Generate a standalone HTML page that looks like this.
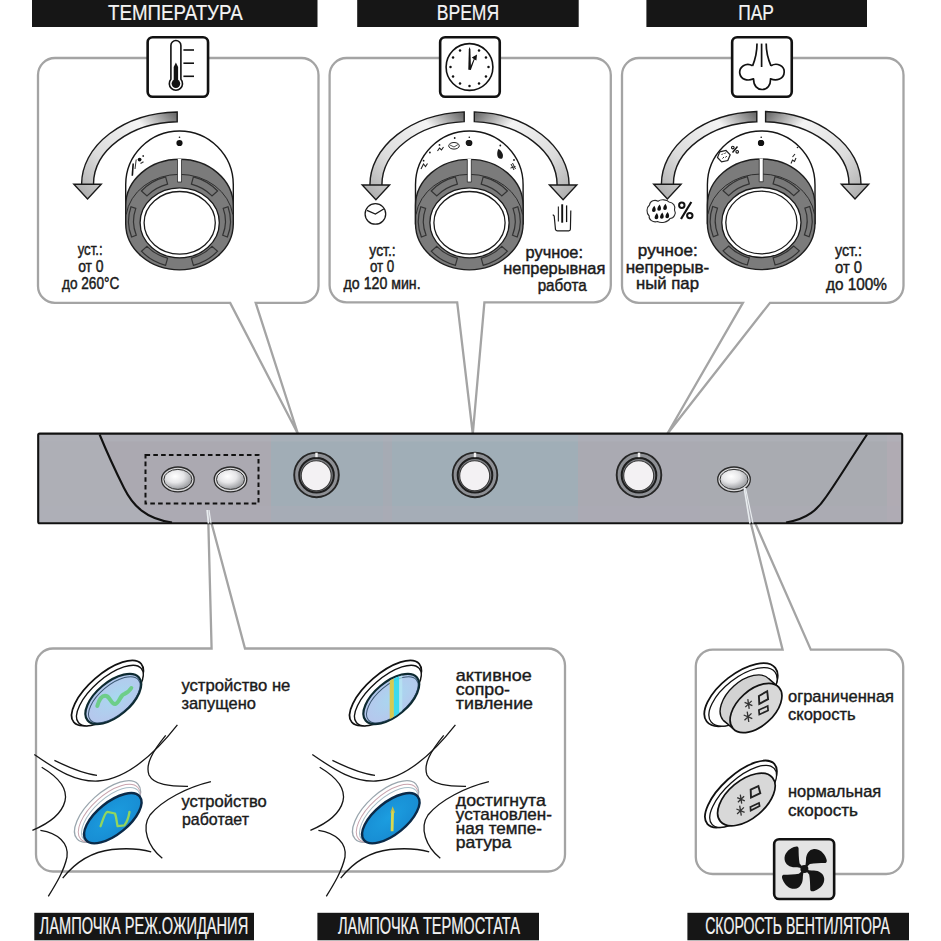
<!DOCTYPE html>
<html><head><meta charset="utf-8"><title>panel</title>
<style>html,body{margin:0;padding:0;background:#fff;width:941px;height:941px;overflow:hidden}
svg{display:block;font-family:"Liberation Sans",sans-serif}</style></head><body>
<svg width="941" height="941" viewBox="0 0 941 941">
<defs>
<radialGradient id="silver" cx="0.4" cy="0.35" r="0.7">
<stop offset="0" stop-color="#ffffff"/><stop offset="0.45" stop-color="#e6e6e8"/><stop offset="1" stop-color="#8e9094"/></radialGradient>
<linearGradient id="stripL" x1="0" y1="0" x2="1" y2="0"><stop offset="0" stop-color="#b4b6bc"/><stop offset="1" stop-color="#aeb1b6"/></linearGradient>
</defs>
<rect width="941" height="941" fill="#fff"/>

<rect x="32" y="0" width="285.5" height="27" fill="#161616"/>
<text x="108" y="20.3" font-size="22" textLength="134.7" lengthAdjust="spacingAndGlyphs" fill="#f4f4f4" text-anchor="start" stroke="#f4f4f4" stroke-width="0.2" >ТЕМПЕРАТУРА</text>
<rect x="357.2" y="0" width="221.5" height="27" fill="#161616"/>
<text x="436.7" y="20.3" font-size="22" textLength="62.5" lengthAdjust="spacingAndGlyphs" fill="#f4f4f4" text-anchor="start" stroke="#f4f4f4" stroke-width="0.2" >ВРЕМЯ</text>
<rect x="646.4" y="0" width="220.6" height="27" fill="#161616"/>
<text x="738.2" y="20.3" font-size="22" textLength="35.7" lengthAdjust="spacingAndGlyphs" fill="#f4f4f4" text-anchor="start" stroke="#f4f4f4" stroke-width="0.2" >ПАР</text>
<rect x="34.3" y="912.8" width="219.7" height="27.5" fill="#161616"/>
<text x="39.6" y="933.9" font-size="23.4" textLength="208.6" lengthAdjust="spacingAndGlyphs" fill="#f4f4f4" text-anchor="start" stroke="#f4f4f4" stroke-width="0.2" >ЛАМПОЧКА РЕЖ.ОЖИДАНИЯ</text>
<rect x="317.4" y="912.8" width="221.6" height="27.5" fill="#161616"/>
<text x="337.9" y="933.9" font-size="23.4" textLength="182" lengthAdjust="spacingAndGlyphs" fill="#f4f4f4" text-anchor="start" stroke="#f4f4f4" stroke-width="0.2" >ЛАМПОЧКА ТЕРМОСТАТА</text>
<rect x="687.4" y="912.8" width="221.6" height="27.5" fill="#161616"/>
<text x="705.2" y="933.9" font-size="23.4" textLength="184.7" lengthAdjust="spacingAndGlyphs" fill="#f4f4f4" text-anchor="start" stroke="#f4f4f4" stroke-width="0.2" >СКОРОСТЬ ВЕНТИЛЯТОРА</text>
<path d="M55,58 H301.5 A17,17 0 0 1 318.5,75 V285.9 A17,17 0 0 1 301.5,302.9 H255.7 L298,434 L230.2,302.9 H55 A17,17 0 0 1 38,285.9 V75 A17,17 0 0 1 55,58 Z" fill="#fff" stroke="#a4a4a4" stroke-width="2.3" stroke-linejoin="miter"/>
<path d="M346.6,58 H593.8 A17,17 0 0 1 610.8,75 V285.3 A17,17 0 0 1 593.8,302.3 H484.4 L472.8,434 L457.2,302.3 H346.6 A17,17 0 0 1 329.6,285.3 V75 A17,17 0 0 1 346.6,58 Z" fill="#fff" stroke="#a4a4a4" stroke-width="2.3" stroke-linejoin="miter"/>
<path d="M639,58 H886.5 A17,17 0 0 1 903.5,75 V285.8 A17,17 0 0 1 886.5,302.8 H770 L667.2,434 L742.9,302.8 H639 A17,17 0 0 1 622,285.8 V75 A17,17 0 0 1 639,58 Z" fill="#fff" stroke="#a4a4a4" stroke-width="2.3" stroke-linejoin="miter"/>
<path d="M53,648.5 H211.6 L208,510 L245,648.5 H548 A17,17 0 0 1 565,665.5 V854.5 A17,17 0 0 1 548,871.5 H53 A17,17 0 0 1 36,854.5 V665.5 A17,17 0 0 1 53,648.5 Z" fill="#fff" stroke="#a4a4a4" stroke-width="2.3" stroke-linejoin="miter"/>
<path d="M712.8,649.6 H782.6 L745,500 L810.8,649.6 H886.2 A17,17 0 0 1 903.2,666.6 V857 A17,17 0 0 1 886.2,874 H712.8 A17,17 0 0 1 695.8,857 V666.6 A17,17 0 0 1 712.8,649.6 Z" fill="#fff" stroke="#a4a4a4" stroke-width="2.3" stroke-linejoin="miter"/>
<rect x="147.65" y="37.25" width="60.400000000000006" height="59.5" rx="5" fill="#fff" stroke="#111" stroke-width="2.6"/>
<path d="M170.9,79.3 V45.5 A5,5 0 0 1 180.9,45.5 V79.3 A6.6,6.6 0 1 1 170.9,79.3 Z" fill="#fff" stroke="#111" stroke-width="1.6"/>
<path d="M173.7,84 V67 L175.9,62.5 L178.1,67 V84 Z" fill="#111"/>
<circle cx="175.9" cy="83.6" r="4.3" fill="#111"/>
<line x1="183.4" y1="50" x2="194" y2="50" stroke="#111" stroke-width="1.6"/>
<line x1="183.4" y1="63.2" x2="194" y2="63.2" stroke="#111" stroke-width="1.6"/>
<line x1="183.4" y1="76.3" x2="194" y2="76.3" stroke="#111" stroke-width="1.6"/>
<rect x="440.15" y="37.25" width="59.60000000000002" height="59.5" rx="5" fill="#fff" stroke="#111" stroke-width="2.6"/>
<circle cx="469.5" cy="67" r="23.4" fill="#fff" stroke="#111" stroke-width="1.6"/>
<circle cx="479.00" cy="50.55" r="1.25" fill="#111"/>
<circle cx="485.95" cy="57.50" r="1.25" fill="#111"/>
<circle cx="488.50" cy="67.00" r="1.25" fill="#111"/>
<circle cx="485.95" cy="76.50" r="1.25" fill="#111"/>
<circle cx="479.00" cy="83.45" r="1.25" fill="#111"/>
<circle cx="469.50" cy="86.00" r="1.25" fill="#111"/>
<circle cx="460.00" cy="83.45" r="1.25" fill="#111"/>
<circle cx="453.05" cy="76.50" r="1.25" fill="#111"/>
<circle cx="450.50" cy="67.00" r="1.25" fill="#111"/>
<circle cx="453.05" cy="57.50" r="1.25" fill="#111"/>
<circle cx="460.00" cy="50.55" r="1.25" fill="#111"/>
<path d="M468.3,69.8 L468.8,49.5 L469.6,47 L470.4,49.5 L471,69.8 Z" fill="#111"/>
<path d="M469.2,69.5 L473.8,59 L471.8,57.6 L477,54.6 L476.4,60.6 L474.6,59.6 L470.9,69.8 Z" fill="#111"/>
<rect x="732.15" y="37.25" width="59.60000000000002" height="59.5" rx="5" fill="#fff" stroke="#111" stroke-width="2.6"/>
<path d="M752.6,65.8 C746,62 738.8,67 739.8,73.5 C740.8,79.5 747.5,81.5 753.5,78.8 C753.5,86 757.5,89.5 762,89.5 C767.5,89.5 770.8,85 770.5,78.8 C776.5,81.5 784,79 784.2,72 C784.5,66 777,62 771,65.8" fill="none" stroke="#111" stroke-width="1.7" stroke-linejoin="round"/>
<path d="M757,43.6 C757,53 755,60 752.6,65.8" fill="none" stroke="#111" stroke-width="1.7"/>
<path d="M766.2,43.6 C766.2,53 768.4,60 771,65.8" fill="none" stroke="#111" stroke-width="1.7"/>
<line x1="761.6" y1="43.6" x2="761.6" y2="67" stroke="#111" stroke-width="1.7"/>
<rect x="774.15" y="839.25" width="60.0" height="59.700000000000045" rx="5" fill="#e4e4e4" stroke="#111" stroke-width="2.6"/>
<g fill="#141414">
<path transform="translate(804.4 868.9) rotate(0)" d="M1,1 L-4.8,-5.5 C-5.6,-10 -5.8,-16 -5.8,-20.3 C-5.8,-22.6 -8,-22.8 -10.5,-21.8 C-16.5,-19.5 -20.3,-14.5 -19.8,-9.5 C-19.3,-4.5 -14.5,-1.8 -9.5,-1.6 C-6.5,-1.5 -3,-1.4 1,1 Z"/>
<path transform="translate(804.4 868.9) rotate(90)" d="M1,1 L-4.8,-5.5 C-5.6,-10 -5.8,-16 -5.8,-20.3 C-5.8,-22.6 -8,-22.8 -10.5,-21.8 C-16.5,-19.5 -20.3,-14.5 -19.8,-9.5 C-19.3,-4.5 -14.5,-1.8 -9.5,-1.6 C-6.5,-1.5 -3,-1.4 1,1 Z"/>
<path transform="translate(804.4 868.9) rotate(180)" d="M1,1 L-4.8,-5.5 C-5.6,-10 -5.8,-16 -5.8,-20.3 C-5.8,-22.6 -8,-22.8 -10.5,-21.8 C-16.5,-19.5 -20.3,-14.5 -19.8,-9.5 C-19.3,-4.5 -14.5,-1.8 -9.5,-1.6 C-6.5,-1.5 -3,-1.4 1,1 Z"/>
<path transform="translate(804.4 868.9) rotate(270)" d="M1,1 L-4.8,-5.5 C-5.6,-10 -5.8,-16 -5.8,-20.3 C-5.8,-22.6 -8,-22.8 -10.5,-21.8 C-16.5,-19.5 -20.3,-14.5 -19.8,-9.5 C-19.3,-4.5 -14.5,-1.8 -9.5,-1.6 C-6.5,-1.5 -3,-1.4 1,1 Z"/>
<circle cx="804.4" cy="868.9" r="4"/>
</g>
<defs>
</defs>
<linearGradient id="ga1" gradientUnits="userSpaceOnUse" x1="177.2" y1="116.87114165936593" x2="87.55" y2="199.0"><stop offset="0" stop-color="#6e6e6e"/><stop offset="0.26" stop-color="#f4f4f4"/><stop offset="0.7" stop-color="#dcdcdc"/><stop offset="1" stop-color="#b0b0b0"/></linearGradient>
<path d="M177.20,112.02 A97.9,72.2 0 0 0 81.60,184.2 L101.25,184.2 L87.55,199.00 L73.85,184.2 L93.50,184.2 A86,62.5 0 0 1 177.20,121.72 Z" fill="url(#ga1)" stroke="#1a1a1a" stroke-width="1.4" stroke-linejoin="miter"/>
<path d="M125.7,224.6 V184.8 A53.8,53.8 0 0 1 233.3,184.8 V224.6" fill="#fff" stroke="#161616" stroke-width="1.4"/>
<path d="M125.7,205.6 A53.8,46.3 0 0 1 233.3,205.6 V223.6 A53.8,46.3 0 0 1 125.7,223.6 Z" fill="#7b7b7b" stroke="#1e1e1e" stroke-width="1.4"/>
<path d="M126.2,214.5 A53.8,46.5 0 0 1 232.8,214.5" fill="none" stroke="#2e2e2e" stroke-width="1"/>
<path d="M141.4,191.0 A50.5,46.0 0 0 1 165.6,176.9 L167.6,184.1 A43,38.5 0 0 0 147.0,195.9 Z" fill="#797979" stroke="#333" stroke-width="1.2"/>
<path d="M193.4,176.9 A50.5,46.0 0 0 1 217.6,191.0 L212.0,195.9 A43,38.5 0 0 0 191.4,184.1 Z" fill="#797979" stroke="#333" stroke-width="1.2"/>
<path d="M131.6,237.0 A51,46.4 0 0 1 131.0,206.8 L135.8,208.4 A46,41.2 0 0 0 136.3,235.2 Z" fill="#797979" stroke="#333" stroke-width="1.2"/>
<path d="M228.0,206.8 A51,46.4 0 0 1 227.4,237.0 L222.7,235.2 A46,41.2 0 0 0 223.2,208.4 Z" fill="#797979" stroke="#333" stroke-width="1.2"/>
<path d="M165.6,265.3 A50.5,46.0 0 0 1 141.4,251.2 L147.0,246.3 A43,38.5 0 0 0 167.6,258.1 Z" fill="#797979" stroke="#333" stroke-width="1.2"/>
<path d="M217.6,251.2 A50.5,46.0 0 0 1 193.4,265.3 L191.4,258.1 A43,38.5 0 0 0 212.0,246.3 Z" fill="#797979" stroke="#333" stroke-width="1.2"/>
<rect x="177.7" y="158.8" width="3.6" height="23" fill="#fff"/>
<path d="M177.5,159.6 V182.1 H181.5 V159.6" fill="none" stroke="#333" stroke-width="0.8"/>
<ellipse cx="179.7" cy="222.79999999999998" rx="39.6" ry="35" fill="#fff" stroke="#1a1a1a" stroke-width="1.3"/>
<ellipse cx="179.7" cy="222.79999999999998" rx="35.6" ry="31.3" fill="#fff" stroke="#1a1a1a" stroke-width="1.3"/>
<circle cx="179.5" cy="143" r="3.1" fill="#111"/>
<circle cx="179.5" cy="137.2" r="0.8" fill="#111"/>
<linearGradient id="ga2" gradientUnits="userSpaceOnUse" x1="464.2" y1="116.76001928365878" x2="375.9" y2="199.8"><stop offset="0" stop-color="#6e6e6e"/><stop offset="0.26" stop-color="#f4f4f4"/><stop offset="0.7" stop-color="#dcdcdc"/><stop offset="1" stop-color="#b0b0b0"/></linearGradient>
<path d="M464.20,111.90 A99.6,73.2 0 0 0 369.90,185 L389.60,185 L375.90,199.80 L362.20,185 L381.90,185 A87.6,63.5 0 0 1 464.20,121.62 Z" fill="url(#ga2)" stroke="#1a1a1a" stroke-width="1.4" stroke-linejoin="miter"/>
<linearGradient id="ga3" gradientUnits="userSpaceOnUse" x1="474.3" y1="116.74022680492975" x2="563.1" y2="199.8"><stop offset="0" stop-color="#6e6e6e"/><stop offset="0.26" stop-color="#f4f4f4"/><stop offset="0.7" stop-color="#dcdcdc"/><stop offset="1" stop-color="#b0b0b0"/></linearGradient>
<path d="M474.30,111.89 A99.6,73.2 0 0 1 569.10,185 L549.40,185 L563.10,199.80 L576.80,185 L557.10,185 A87.6,63.5 0 0 0 474.30,121.60 Z" fill="url(#ga3)" stroke="#1a1a1a" stroke-width="1.4" stroke-linejoin="miter"/>
<path d="M415.5,224.6 V184.8 A53.8,53.8 0 0 1 523.1,184.8 V224.6" fill="#fff" stroke="#161616" stroke-width="1.4"/>
<path d="M415.5,205.6 A53.8,46.3 0 0 1 523.1,205.6 V223.6 A53.8,46.3 0 0 1 415.5,223.6 Z" fill="#7b7b7b" stroke="#1e1e1e" stroke-width="1.4"/>
<path d="M416.0,214.5 A53.8,46.5 0 0 1 522.6,214.5" fill="none" stroke="#2e2e2e" stroke-width="1"/>
<path d="M431.2,191.0 A50.5,46.0 0 0 1 455.4,176.9 L457.4,184.1 A43,38.5 0 0 0 436.8,195.9 Z" fill="#797979" stroke="#333" stroke-width="1.2"/>
<path d="M483.2,176.9 A50.5,46.0 0 0 1 507.4,191.0 L501.8,195.9 A43,38.5 0 0 0 481.2,184.1 Z" fill="#797979" stroke="#333" stroke-width="1.2"/>
<path d="M421.4,237.0 A51,46.4 0 0 1 420.8,206.8 L425.6,208.4 A46,41.2 0 0 0 426.1,235.2 Z" fill="#797979" stroke="#333" stroke-width="1.2"/>
<path d="M517.8,206.8 A51,46.4 0 0 1 517.2,237.0 L512.5,235.2 A46,41.2 0 0 0 513.0,208.4 Z" fill="#797979" stroke="#333" stroke-width="1.2"/>
<path d="M455.4,265.3 A50.5,46.0 0 0 1 431.2,251.2 L436.8,246.3 A43,38.5 0 0 0 457.4,258.1 Z" fill="#797979" stroke="#333" stroke-width="1.2"/>
<path d="M507.4,251.2 A50.5,46.0 0 0 1 483.2,265.3 L481.2,258.1 A43,38.5 0 0 0 501.8,246.3 Z" fill="#797979" stroke="#333" stroke-width="1.2"/>
<rect x="467.5" y="158.8" width="3.6" height="23" fill="#fff"/>
<path d="M467.3,159.6 V182.1 H471.3 V159.6" fill="none" stroke="#333" stroke-width="0.8"/>
<ellipse cx="469.5" cy="222.79999999999998" rx="39.6" ry="35" fill="#fff" stroke="#1a1a1a" stroke-width="1.3"/>
<ellipse cx="469.5" cy="222.79999999999998" rx="35.6" ry="31.3" fill="#fff" stroke="#1a1a1a" stroke-width="1.3"/>
<circle cx="469.3" cy="143" r="3.1" fill="#111"/>
<circle cx="469.3" cy="137.2" r="0.8" fill="#111"/>
<linearGradient id="ga4" gradientUnits="userSpaceOnUse" x1="756.8" y1="116.67461048683982" x2="667.4000000000001" y2="199.0"><stop offset="0" stop-color="#6e6e6e"/><stop offset="0.26" stop-color="#f4f4f4"/><stop offset="0.7" stop-color="#dcdcdc"/><stop offset="1" stop-color="#b0b0b0"/></linearGradient>
<path d="M756.80,111.57 A99.8,72.7 0 0 0 661.40,184.2 L681.10,184.2 L667.40,199.00 L653.70,184.2 L673.40,184.2 A87.8,62.5 0 0 1 756.80,121.78 Z" fill="url(#ga4)" stroke="#1a1a1a" stroke-width="1.4" stroke-linejoin="miter"/>
<linearGradient id="ga5" gradientUnits="userSpaceOnUse" x1="765.6" y1="116.67461048683981" x2="855.0" y2="199.0"><stop offset="0" stop-color="#6e6e6e"/><stop offset="0.26" stop-color="#f4f4f4"/><stop offset="0.7" stop-color="#dcdcdc"/><stop offset="1" stop-color="#b0b0b0"/></linearGradient>
<path d="M765.60,111.57 A99.8,72.7 0 0 1 861.00,184.2 L841.30,184.2 L855.00,199.00 L868.70,184.2 L849.00,184.2 A87.8,62.5 0 0 0 765.60,121.78 Z" fill="url(#ga5)" stroke="#1a1a1a" stroke-width="1.4" stroke-linejoin="miter"/>
<path d="M707.4000000000001,224.3 V184.8 A53.8,53.8 0 0 1 815.0,184.8 V224.3" fill="#fff" stroke="#161616" stroke-width="1.4"/>
<path d="M707.4000000000001,205.3 A53.8,46.3 0 0 1 815.0,205.3 V223.3 A53.8,46.3 0 0 1 707.4000000000001,223.3 Z" fill="#7b7b7b" stroke="#1e1e1e" stroke-width="1.4"/>
<path d="M707.9,214.2 A53.8,46.5 0 0 1 814.5,214.2" fill="none" stroke="#2e2e2e" stroke-width="1"/>
<path d="M723.1,190.7 A50.5,46.0 0 0 1 747.3,176.6 L749.3,183.8 A43,38.5 0 0 0 728.7,195.6 Z" fill="#797979" stroke="#333" stroke-width="1.2"/>
<path d="M775.1,176.6 A50.5,46.0 0 0 1 799.3,190.7 L793.7,195.6 A43,38.5 0 0 0 773.1,183.8 Z" fill="#797979" stroke="#333" stroke-width="1.2"/>
<path d="M713.3,236.7 A51,46.4 0 0 1 712.7,206.5 L717.5,208.1 A46,41.2 0 0 0 718.0,234.9 Z" fill="#797979" stroke="#333" stroke-width="1.2"/>
<path d="M809.7,206.5 A51,46.4 0 0 1 809.1,236.7 L804.4,234.9 A46,41.2 0 0 0 804.9,208.1 Z" fill="#797979" stroke="#333" stroke-width="1.2"/>
<path d="M747.3,265.0 A50.5,46.0 0 0 1 723.1,250.9 L728.7,246.0 A43,38.5 0 0 0 749.3,257.8 Z" fill="#797979" stroke="#333" stroke-width="1.2"/>
<path d="M799.3,250.9 A50.5,46.0 0 0 1 775.1,265.0 L773.1,257.8 A43,38.5 0 0 0 793.7,246.0 Z" fill="#797979" stroke="#333" stroke-width="1.2"/>
<rect x="759.4000000000001" y="158.5" width="3.6" height="23" fill="#fff"/>
<path d="M759.2,159.3 V181.8 H763.2 V159.3" fill="none" stroke="#333" stroke-width="0.8"/>
<ellipse cx="761.4000000000001" cy="222.5" rx="39.6" ry="35" fill="#fff" stroke="#1a1a1a" stroke-width="1.3"/>
<ellipse cx="761.4000000000001" cy="222.5" rx="35.6" ry="31.3" fill="#fff" stroke="#1a1a1a" stroke-width="1.3"/>
<circle cx="761.2" cy="143" r="3.1" fill="#111"/>
<circle cx="761.2" cy="137.2" r="0.8" fill="#111"/>
<text x="90.1" y="255.1" font-size="16" textLength="24.9" lengthAdjust="spacingAndGlyphs" fill="#1a1a1a" text-anchor="middle" stroke="#1a1a1a" stroke-width="0.45" >уст.:</text>
<text x="90.9" y="271.8" font-size="16" textLength="25.4" lengthAdjust="spacingAndGlyphs" fill="#1a1a1a" text-anchor="middle" stroke="#1a1a1a" stroke-width="0.45" >от 0</text>
<text x="90.6" y="288.6" font-size="16" textLength="57.3" lengthAdjust="spacingAndGlyphs" fill="#1a1a1a" text-anchor="middle" stroke="#1a1a1a" stroke-width="0.45" >до 260°C</text>
<text x="382.5" y="255.6" font-size="16" textLength="26.3" lengthAdjust="spacingAndGlyphs" fill="#1a1a1a" text-anchor="middle" stroke="#1a1a1a" stroke-width="0.45" >уст.:</text>
<text x="382.1" y="271.8" font-size="16" textLength="24.4" lengthAdjust="spacingAndGlyphs" fill="#1a1a1a" text-anchor="middle" stroke="#1a1a1a" stroke-width="0.45" >от 0</text>
<text x="382.1" y="288.6" font-size="16" textLength="77" lengthAdjust="spacingAndGlyphs" fill="#1a1a1a" text-anchor="middle" stroke="#1a1a1a" stroke-width="0.45" >до 120 мин.</text>
<text x="554.3" y="258" font-size="17" textLength="57.4" lengthAdjust="spacingAndGlyphs" fill="#1a1a1a" text-anchor="middle" stroke="#1a1a1a" stroke-width="0.45" >ручное:</text>
<text x="554.3" y="273.9" font-size="17" textLength="102" lengthAdjust="spacingAndGlyphs" fill="#1a1a1a" text-anchor="middle" stroke="#1a1a1a" stroke-width="0.45" >непрерывная</text>
<text x="562.2" y="291.1" font-size="17" textLength="49.1" lengthAdjust="spacingAndGlyphs" fill="#1a1a1a" text-anchor="middle" stroke="#1a1a1a" stroke-width="0.45" >работа</text>
<text x="667.8" y="256" font-size="17" textLength="59.9" lengthAdjust="spacingAndGlyphs" fill="#1a1a1a" text-anchor="middle" stroke="#1a1a1a" stroke-width="0.45" >ручное:</text>
<text x="667.5" y="272.6" font-size="17" textLength="83.6" lengthAdjust="spacingAndGlyphs" fill="#1a1a1a" text-anchor="middle" stroke="#1a1a1a" stroke-width="0.45" >непрерыв-</text>
<text x="667.5" y="289.2" font-size="17" textLength="63" lengthAdjust="spacingAndGlyphs" fill="#1a1a1a" text-anchor="middle" stroke="#1a1a1a" stroke-width="0.45" >ный пар</text>
<text x="848.5" y="256.3" font-size="17" textLength="27" lengthAdjust="spacingAndGlyphs" fill="#1a1a1a" text-anchor="middle" stroke="#1a1a1a" stroke-width="0.45" >уст.:</text>
<text x="848.5" y="272.7" font-size="17" textLength="27" lengthAdjust="spacingAndGlyphs" fill="#1a1a1a" text-anchor="middle" stroke="#1a1a1a" stroke-width="0.45" >от 0</text>
<text x="856.5" y="289.7" font-size="17" textLength="61" lengthAdjust="spacingAndGlyphs" fill="#1a1a1a" text-anchor="middle" stroke="#1a1a1a" stroke-width="0.45" >до 100%</text>
<circle cx="375.4" cy="213.9" r="10.3" fill="#fff" stroke="#1a1a1a" stroke-width="1.3"/>
<path d="M367,210.3 L375.4,214 L383.7,209" fill="none" stroke="#1a1a1a" stroke-width="1.3" stroke-linejoin="miter"/>
<path d="M552.8,214.6 L554.2,216 L555.5,229.5 Q556,230.8 557.5,230.8 L568.8,230.8 Q570.3,230.8 570.4,229.3 L570.8,210.6" fill="none" stroke="#1a1a1a" stroke-width="1.2"/>
<path d="M558.4,206.6 V221.5" stroke="#333" stroke-width="1.2"/>
<path d="M562.2,204.3 V222.7" stroke="#111" stroke-width="1.9"/>
<path d="M566.6,205.4 V222.1" stroke="#111" stroke-width="1.3"/>
<path d="M649.5,205 C650,200.5 655,199.5 658,201.2 C661,199 667,199.5 669,202 C673,202.5 676,206 674.5,210 C676.5,213.5 674,218.5 670,218.5 C668,222.5 661,223.5 657.5,221.5 C653,223 648.5,219.5 649.2,216 C646,213 646.5,207.5 649.5,205 Z" fill="#fff" stroke="#2a2a2a" stroke-width="1.1"/>
<path d="M654.3000000000001,205.7 C656.3000000000001,208.7 656.2,211.9 653.7,211.9 C651.3000000000001,211.9 651.5,209.0 654.3000000000001,205.7 Z" fill="#111"/>
<path d="M659.6,204.5 C661.6,207.5 661.5,210.70000000000002 659,210.70000000000002 C656.6,210.70000000000002 656.8,207.8 659.6,204.5 Z" fill="#111"/>
<path d="M665.5,203.79999999999998 C667.5,206.79999999999998 667.4,210.0 664.9,210.0 C662.5,210.0 662.6999999999999,207.1 665.5,203.79999999999998 Z" fill="#111"/>
<path d="M656.9,213.0 C658.9,216.0 658.8,219.20000000000002 656.3,219.20000000000002 C653.9,219.20000000000002 654.0999999999999,216.3 656.9,213.0 Z" fill="#111"/>
<path d="M662.3000000000001,212.6 C664.3000000000001,215.6 664.2,218.8 661.7,218.8 C659.3000000000001,218.8 659.5,215.9 662.3000000000001,212.6 Z" fill="#111"/>
<path d="M667.7,212.0 C669.7,215.0 669.6,218.20000000000002 667.1,218.20000000000002 C664.7,218.20000000000002 664.9,215.3 667.7,212.0 Z" fill="#111"/>
<circle cx="681.8" cy="205.3" r="2.7" fill="none" stroke="#111" stroke-width="2"/>
<circle cx="689.8" cy="215.6" r="2.7" fill="none" stroke="#111" stroke-width="2"/>
<path d="M691.3,202 L681,219" stroke="#111" stroke-width="2.2"/>
<path d="M132.3,175.8 L133.2,163.5" stroke="#111" stroke-width="1.6"/>
<path d="M135,169 L136.2,159.5" stroke="#333" stroke-width="1"/>
<circle cx="139.6" cy="159.6" r="1.9" fill="#111"/>
<circle cx="143.2" cy="156" r="0.9" fill="#333"/>
<path d="M140.5,163.5 L143.5,161.8" stroke="#333" stroke-width="1.2"/>
<g fill="#1a1a1a">
<circle cx="454.7" cy="138" r="0.9"/>
<circle cx="439.5" cy="144.9" r="0.9"/>
<circle cx="429.9" cy="152.5" r="0.9"/>
<circle cx="423.6" cy="160.7" r="0.9"/>
<circle cx="500.3" cy="145.5" r="0.9"/>
<circle cx="514" cy="160" r="0.9"/>
<circle cx="468.5" cy="142.8" r="2.8"/>
</g>
<ellipse cx="454" cy="145.8" rx="5.3" ry="3.3" fill="none" stroke="#222" stroke-width="1"/>
<path d="M450,145 L454,147 L458,144.5" fill="none" stroke="#222" stroke-width="0.8"/>
<path d="M437.5,151 l2,-3 l2,2 l2,-3 M421,169 l2.5,-5 l2,2.5 l2,-3" fill="none" stroke="#222" stroke-width="1.1"/>
<path d="M498.5,149 C502,151 504,155 502.5,158 C501,160 497,158.5 497.2,154 C497.3,151.5 497.8,150 498.5,149 Z" fill="#1a1a1a"/>
<path d="M511,164 l3,6 M512.5,163 l3,6 M510.5,168 l5,-1.5" fill="none" stroke="#222" stroke-width="1"/>
<path d="M717.5,157.5 L719.8,151.8 L726,150.5 L730.2,154.8 L727.8,160.5 L721.6,161.8 Z" fill="none" stroke="#222" stroke-width="1.2"/>
<path d="M721.5,155 l1.5,-1.5 M724.5,154 l1.2,-1.5 M722.5,158.5 l1.5,-1.5 M725.5,157.5 l1.2,-1.5" stroke="#222" stroke-width="1"/>
<path d="M732.5,152.5 L737.5,146.5" stroke="#111" stroke-width="1.4"/><circle cx="732.8" cy="147.6" r="1.3" fill="none" stroke="#111" stroke-width="1.1"/><circle cx="737.2" cy="151.8" r="1.3" fill="none" stroke="#111" stroke-width="1.1"/>
<circle cx="760.8" cy="143" r="2.9" fill="#111"/>
<path d="M791,163.5 l1.5,-3.5 l2,1.5 l1.5,-3.5 M792.5,157 l2.5,-3" fill="none" stroke="#222" stroke-width="1.1"/><circle cx="797.5" cy="147.5" r="0.8" fill="#222"/>
<g>
<rect x="39" y="434.5" width="862.5" height="88" fill="#a9abb0"/>
<rect x="39" y="434.5" width="232" height="88" fill="#aba9b1" opacity="1"/>
<rect x="271" y="434.5" width="112" height="88" fill="#a1adb6" opacity="1"/>
<rect x="383" y="434.5" width="9" height="88" fill="#a6abb4" opacity="1"/>
<rect x="392" y="434.5" width="186" height="88" fill="#a0aeb7" opacity="1"/>
<rect x="578" y="434.5" width="122" height="88" fill="#aaaab2" opacity="1"/>
<rect x="700" y="434.5" width="187" height="88" fill="#a9abb1" opacity="1"/>
<rect x="887" y="434.5" width="13" height="88" fill="#b0abb3" opacity="1"/>
<rect x="39" y="434.5" width="862" height="7" fill="#b4b8c0" opacity="0.35"/>
<rect x="39" y="506" width="862" height="16" fill="#b0adb6" opacity="0.35"/>
</g>
<path d="M39,434.5 H99.6 C108,455 116,472 124,488 C133,506 146,519 172,522.5 H39 Z" fill="#afb0b8" opacity="0.8"/>
<path d="M99.6,434.5 C108,455 116,472 124,488 C133,506 146,519 172,522.5" fill="none" stroke="#111" stroke-width="2.1"/>
<path d="M867,434.5 C850,460 838,480 826,497 C818,509 808,519 786,522.5" fill="none" stroke="#111" stroke-width="2.1"/>
<rect x="38.2" y="433.6" width="864" height="89.6" rx="1.5" fill="none" stroke="#111" stroke-width="2.1"/>
<rect x="145.5" y="455" width="113" height="48.6" fill="none" stroke="#111" stroke-width="2" stroke-dasharray="4.6 3.2"/>
<ellipse cx="177.9" cy="479.4" rx="16.3" ry="12.4" fill="#d8d8da" stroke="#2a2a2a" stroke-width="1.3"/>
<ellipse cx="177.9" cy="479.4" rx="14" ry="10" fill="url(#silver)" stroke="#333" stroke-width="1"/>
<ellipse cx="230.5" cy="479.4" rx="16.3" ry="12.4" fill="#d8d8da" stroke="#2a2a2a" stroke-width="1.3"/>
<ellipse cx="230.5" cy="479.4" rx="14" ry="10" fill="url(#silver)" stroke="#333" stroke-width="1"/>
<ellipse cx="734" cy="479.4" rx="16.3" ry="12.4" fill="#d8d8da" stroke="#2a2a2a" stroke-width="1.3"/>
<ellipse cx="734" cy="479.4" rx="14" ry="10" fill="url(#silver)" stroke="#333" stroke-width="1"/>
<circle cx="316.5" cy="474.9" r="22.3" fill="#8e9095" stroke="#262626" stroke-width="1.9"/>
<circle cx="316.5" cy="475.29999999999995" r="17.3" fill="#7e8085" stroke="#1e1e1e" stroke-width="2"/>
<circle cx="316.2" cy="475.7" r="15" fill="#f3f1f3" stroke="#3a3a3a" stroke-width="1.1"/>
<rect x="315.3" y="452.7" width="2.4" height="4.5" fill="#f4f4f4"/>
<circle cx="475" cy="474.9" r="22.3" fill="#8e9095" stroke="#262626" stroke-width="1.9"/>
<circle cx="475" cy="475.29999999999995" r="17.3" fill="#7e8085" stroke="#1e1e1e" stroke-width="2"/>
<circle cx="474.7" cy="475.7" r="15" fill="#f3f1f3" stroke="#3a3a3a" stroke-width="1.1"/>
<rect x="473.8" y="452.7" width="2.4" height="4.5" fill="#f4f4f4"/>
<circle cx="639" cy="474.9" r="22.3" fill="#8e9095" stroke="#262626" stroke-width="1.9"/>
<circle cx="639" cy="475.29999999999995" r="17.3" fill="#7e8085" stroke="#1e1e1e" stroke-width="2"/>
<circle cx="638.7" cy="475.7" r="15" fill="#f3f1f3" stroke="#3a3a3a" stroke-width="1.1"/>
<rect x="637.8" y="452.7" width="2.4" height="4.5" fill="#f4f4f4"/>
<path d="M207.2,510 L208.5,523.5" stroke="#e8ecef" stroke-width="1.8"/>
<path d="M209,510 L211,523.5" stroke="#e8ecef" stroke-width="1.2"/>
<path d="M744.2,488 L750,523.5" stroke="#e8ecef" stroke-width="1.6"/>
<path d="M745.5,488 L753,523.5" stroke="#e8ecef" stroke-width="1.2"/>
<defs><radialGradient id="faceA" cx="0.55" cy="0.5" r="0.6"><stop offset="0" stop-color="#a8d8f0"/><stop offset="1" stop-color="#b8c4ec"/></radialGradient><radialGradient id="faceB" cx="0.5" cy="0.45" r="0.65"><stop offset="0" stop-color="#1c9ee0"/><stop offset="0.75" stop-color="#188ed4"/><stop offset="1" stop-color="#1270b4"/></radialGradient></defs>
<g transform="translate(0 0)" fill="none" stroke="#161616" stroke-width="1.3">
<path d="M34.3,754.5 C58,771 76,782 98,781 C128,779 156,752 177.4,724.8"/>
<path d="M54.4,760.4 C70,768 84,774 97,775.3"/>
<path d="M41.7,767.3 C58,777 68,788 65,801 C62,813 50,823 32.4,830.3"/>
<path d="M165.7,735.4 C153,751 145,764 149,775 C154,785 170,786.5 188,786.4"/>
<path d="M210.9,781.6 C188,787 162,800 150,815 C141,828 148,847 162.3,858.2"/>
<path d="M40.4,830.3 C58,833 69,843 67,857 C64,871 56,884 48.3,896.4"/>
<path d="M62.7,878.1 C74,864 90,852 112,849.5 C127,848 141,849 151.2,851.8"/>
</g>
<g transform="translate(278 0)" fill="none" stroke="#161616" stroke-width="1.3">
<path d="M34.3,754.5 C58,771 76,782 98,781 C128,779 156,752 177.4,724.8"/>
<path d="M54.4,760.4 C70,768 84,774 97,775.3"/>
<path d="M41.7,767.3 C58,777 68,788 65,801 C62,813 50,823 32.4,830.3"/>
<path d="M165.7,735.4 C153,751 145,764 149,775 C154,785 170,786.5 188,786.4"/>
<path d="M210.9,781.6 C188,787 162,800 150,815 C141,828 148,847 162.3,858.2"/>
<path d="M40.4,830.3 C58,833 69,843 67,857 C64,871 56,884 48.3,896.4"/>
<path d="M62.7,878.1 C74,864 90,852 112,849.5 C127,848 141,849 151.2,851.8"/>
</g>
<ellipse cx="107.5" cy="693" rx="44.6" ry="19" transform="rotate(-41 107.5 693)" fill="#fff" stroke="#111" stroke-width="1.8"/>
<ellipse cx="109.9" cy="695.6" rx="41.5" ry="17.6" transform="rotate(-41 109.9 695.6)" fill="#fff" stroke="#111" stroke-width="1.4"/>
<ellipse cx="113.3" cy="699" rx="33.5" ry="17" transform="rotate(-40 113.3 699)" fill="url(#faceA)" stroke="#0d2a30" stroke-width="2.2"/>
<ellipse cx="114.3" cy="699.8" rx="31.3" ry="14.8" transform="rotate(-40 114.3 699.8)" fill="none" stroke="#1a3a50" stroke-width="1" opacity="0.8"/>
<path d="M97.3,706 C99.3,699 102.3,695 106.3,696 C110.3,697 111.3,705 115.3,704 C119.3,703 120.3,695 124.3,694 C127.3,693 129.3,691 131.3,688" fill="none" stroke="#58cc68" stroke-width="4" stroke-linecap="round" opacity="0.75"/>
<ellipse cx="385.5" cy="693" rx="44.6" ry="19" transform="rotate(-41 385.5 693)" fill="#fff" stroke="#111" stroke-width="1.8"/>
<ellipse cx="387.9" cy="695.6" rx="41.5" ry="17.6" transform="rotate(-41 387.9 695.6)" fill="#fff" stroke="#111" stroke-width="1.4"/>
<ellipse cx="391.3" cy="699" rx="33.5" ry="17" transform="rotate(-40 391.3 699)" fill="url(#faceA)" stroke="#0d2a30" stroke-width="2.2"/>
<ellipse cx="392.3" cy="699.8" rx="31.3" ry="14.8" transform="rotate(-40 392.3 699.8)" fill="none" stroke="#1a3a50" stroke-width="1" opacity="0.8"/>
<clipPath id="clipf278"><ellipse cx="391.3" cy="699" rx="32.5" ry="16" transform="rotate(-40 391.3 699)"/></clipPath>
<g clip-path="url(#clipf278)">
<rect x="390.3" y="669" width="12" height="60" fill="#b8e8f4" opacity="0.7"/>
<rect x="389.7" y="669" width="4.2" height="60" fill="#d8c848" opacity="0.95"/>
<rect x="393.90000000000003" y="669" width="5.2" height="60" fill="#28d8ec" opacity="0.85"/>
</g>
<ellipse cx="107.5" cy="811.5" rx="41" ry="19" transform="rotate(-42 107.5 811.5)" fill="#fff" stroke="#9aa6ae" stroke-width="1.3"/>
<ellipse cx="109.3" cy="813.3" rx="38.5" ry="17.8" transform="rotate(-42 109.3 813.3)" fill="none" stroke="#c8a4ae" stroke-width="1"/>
<ellipse cx="110.9" cy="814.9" rx="36.5" ry="16.8" transform="rotate(-42 110.9 814.9)" fill="none" stroke="#a6bcc6" stroke-width="1"/>
<ellipse cx="112.8" cy="818.2" rx="34.6" ry="16" transform="rotate(-39 112.8 818.2)" fill="url(#faceB)" stroke="#0b2a48" stroke-width="2.4"/>
<path d="M100.6,826.2 C102.8,820.2 104.8,812.2 107.39999999999999,811.8000000000001 L115.0,813.5 C116.8,818.2 116.8,824.2 117.6,826.2 L124.39999999999999,825.4000000000001 C127.8,821.2 128.8,816.2 129.5,811.8000000000001" fill="none" stroke="#a8e048" stroke-width="2.3" stroke-linecap="round" stroke-linejoin="round" opacity="0.85"/>
<ellipse cx="385.5" cy="811.5" rx="41" ry="19" transform="rotate(-42 385.5 811.5)" fill="#fff" stroke="#9aa6ae" stroke-width="1.3"/>
<ellipse cx="387.3" cy="813.3" rx="38.5" ry="17.8" transform="rotate(-42 387.3 813.3)" fill="none" stroke="#c8a4ae" stroke-width="1"/>
<ellipse cx="388.9" cy="814.9" rx="36.5" ry="16.8" transform="rotate(-42 388.9 814.9)" fill="none" stroke="#a6bcc6" stroke-width="1"/>
<ellipse cx="390.8" cy="818.2" rx="34.6" ry="16" transform="rotate(-39 390.8 818.2)" fill="url(#faceB)" stroke="#0b2a48" stroke-width="2.4"/>
<path d="M392.1,831.2 L392.6,810.2" fill="none" stroke="#d8d850" stroke-width="2.8"/>
<path d="M391.0,812.7 L392.7,808.2 L394.40000000000003,812.7" fill="none" stroke="#c8c048" stroke-width="1.3"/>
<text x="181.4" y="691" font-size="17" textLength="109" lengthAdjust="spacingAndGlyphs" fill="#1a1a1a" text-anchor="start" stroke="#1a1a1a" stroke-width="0.4" >устройство не</text>
<text x="181.4" y="708.9" font-size="17" textLength="74.6" lengthAdjust="spacingAndGlyphs" fill="#1a1a1a" text-anchor="start" stroke="#1a1a1a" stroke-width="0.4" >запущено</text>
<text x="181.4" y="806.7" font-size="17" textLength="85.4" lengthAdjust="spacingAndGlyphs" fill="#1a1a1a" text-anchor="start" stroke="#1a1a1a" stroke-width="0.4" >устройство</text>
<text x="182" y="824.5" font-size="17" textLength="67" lengthAdjust="spacingAndGlyphs" fill="#1a1a1a" text-anchor="start" stroke="#1a1a1a" stroke-width="0.4" >работает</text>
<text x="455.8" y="681" font-size="17" textLength="75.9" lengthAdjust="spacingAndGlyphs" fill="#1a1a1a" text-anchor="start" stroke="#1a1a1a" stroke-width="0.4" >активное</text>
<text x="455.8" y="694.7" font-size="17" textLength="54.2" lengthAdjust="spacingAndGlyphs" fill="#1a1a1a" text-anchor="start" stroke="#1a1a1a" stroke-width="0.4" >сопро-</text>
<text x="455.8" y="709.1" font-size="17" textLength="77.2" lengthAdjust="spacingAndGlyphs" fill="#1a1a1a" text-anchor="start" stroke="#1a1a1a" stroke-width="0.4" >тивление</text>
<text x="455.8" y="806" font-size="17" textLength="90" lengthAdjust="spacingAndGlyphs" fill="#1a1a1a" text-anchor="start" stroke="#1a1a1a" stroke-width="0.4" >достигнута</text>
<text x="455.8" y="820" font-size="17" textLength="96.2" lengthAdjust="spacingAndGlyphs" fill="#1a1a1a" text-anchor="start" stroke="#1a1a1a" stroke-width="0.4" >установлен-</text>
<text x="455.8" y="834.1" font-size="17" textLength="86.2" lengthAdjust="spacingAndGlyphs" fill="#1a1a1a" text-anchor="start" stroke="#1a1a1a" stroke-width="0.4" >ная темпе-</text>
<text x="455.8" y="848.1" font-size="17" textLength="55.5" lengthAdjust="spacingAndGlyphs" fill="#1a1a1a" text-anchor="start" stroke="#1a1a1a" stroke-width="0.4" >ратура</text>
<text x="788" y="701.5" font-size="17" textLength="106" lengthAdjust="spacingAndGlyphs" fill="#1a1a1a" text-anchor="start" stroke="#1a1a1a" stroke-width="0.4" >ограниченная</text>
<text x="788" y="719.8" font-size="17" textLength="67.7" lengthAdjust="spacingAndGlyphs" fill="#1a1a1a" text-anchor="start" stroke="#1a1a1a" stroke-width="0.4" >скорость</text>
<text x="788" y="797.1" font-size="17" textLength="93.2" lengthAdjust="spacingAndGlyphs" fill="#1a1a1a" text-anchor="start" stroke="#1a1a1a" stroke-width="0.4" >нормальная</text>
<text x="788" y="816.3" font-size="17" textLength="70" lengthAdjust="spacingAndGlyphs" fill="#1a1a1a" text-anchor="start" stroke="#1a1a1a" stroke-width="0.4" >скорость</text>
<ellipse cx="741" cy="694.7" rx="43.5" ry="21" transform="rotate(-38 741 694.7)" fill="#fff" stroke="#111" stroke-width="1.8"/>
<ellipse cx="743" cy="696.9000000000001" rx="40.5" ry="19.4" transform="rotate(-38 743 696.9000000000001)" fill="#fff" stroke="#111" stroke-width="1.3"/>
<ellipse cx="746" cy="699.5" rx="30.8" ry="18.1" transform="rotate(-42 746 699.5)" fill="#d2d2d2" stroke="#111" stroke-width="1.4"/>
<path d="M768.9,678.9 L778.9,687.4 L733.1,728.6 L723.1,720.1 Z" fill="#d2d2d2"/>
<path d="M768.9,678.9 L778.9,687.4 M733.1,728.6 L723.1,720.1" stroke="#111" stroke-width="1.4"/>
<ellipse cx="756" cy="708" rx="30.8" ry="18.1" transform="rotate(-42 756 708)" fill="#d8d8d8" stroke="#111" stroke-width="1.7"/>
<polygon points="758.9,696 767.2,691.2 768.1,699.1 759.3,703.9" fill="none" stroke="#222" stroke-width="1.9" stroke-linejoin="miter"/>
<polygon points="758.9,710 767.7,706 768.1,710.5 759.3,714.5" fill="none" stroke="#222" stroke-width="1.7" stroke-linejoin="miter"/>
<path d="M744.6,702.3 L752.4,705.7 M747.8,699.2 L749.2,708.8 M751.7,700.9 L745.3,707.1 " stroke="#333" stroke-width="1.3"/>
<path d="M743.7,715.0 L752.3,718.6 M747.2,711.6 L748.8,722.0 M751.5,713.4 L744.5,720.2 " stroke="#333" stroke-width="1.3"/>
<ellipse cx="740.9" cy="794" rx="45" ry="19.5" transform="rotate(-42 740.9 794)" fill="#fff" stroke="#111" stroke-width="1.8"/>
<ellipse cx="743.1" cy="796.4" rx="41.8" ry="18" transform="rotate(-42 743.1 796.4)" fill="#fff" stroke="#111" stroke-width="1.3"/>
<ellipse cx="746.4" cy="799.5" rx="34" ry="19" transform="rotate(-40 746.4 799.5)" fill="#d8d8d8" stroke="#111" stroke-width="1.7"/>
<polygon points="750.7,789.7 758.4,786.2 760.3,793.2 751,797.6" fill="none" stroke="#222" stroke-width="1.9" stroke-linejoin="miter"/>
<polygon points="750.4,806.9 759,803 759.6,806 750.7,810.6" fill="none" stroke="#222" stroke-width="1.7" stroke-linejoin="miter"/>
<path d="M737.2,797.6 L744.8,800.8 M740.3,794.7 L741.7,803.7 M744.1,796.2 L737.9,802.2 " stroke="#333" stroke-width="1.3"/>
<path d="M736.4,809.0 L744.6,812.4 M739.7,805.7 L741.3,815.7 M743.9,807.4 L737.1,814.0 " stroke="#333" stroke-width="1.3"/>
</svg></body></html>
